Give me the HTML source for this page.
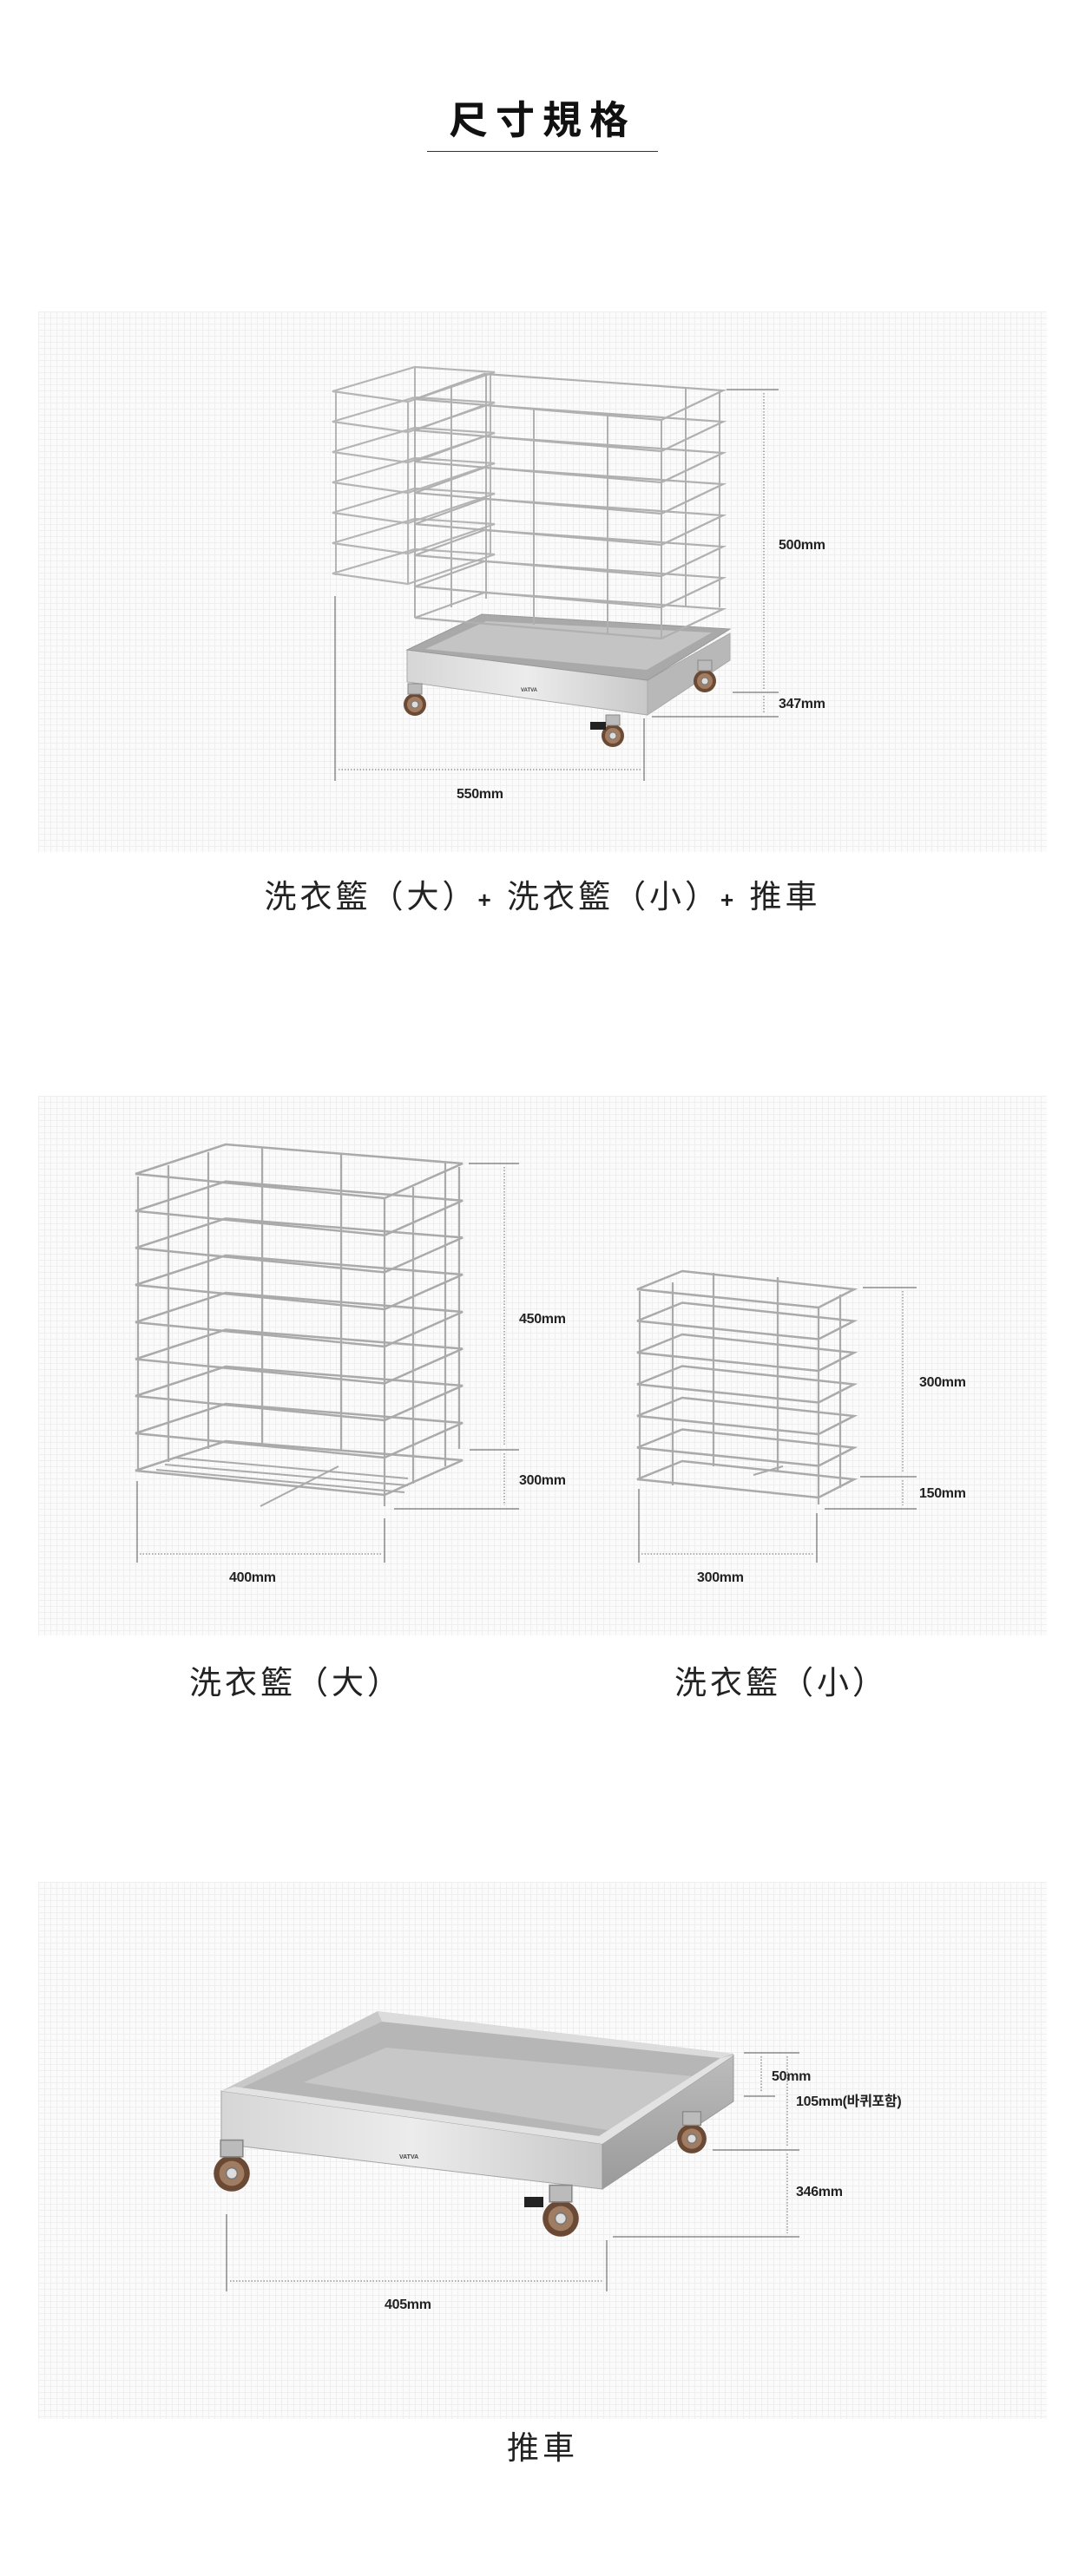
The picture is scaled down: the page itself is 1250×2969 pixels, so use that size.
<!DOCTYPE html>
<html><head><meta charset="utf-8">
<style>
html,body{margin:0;padding:0;background:#fff;}
body{width:1250px;height:2969px;position:relative;overflow:hidden;font-family:"Liberation Sans","Noto Sans CJK TC",sans-serif;}
.panel{position:absolute;left:44px;width:1162px;background-color:#fbfbfb;
background-image:linear-gradient(#efefef 1px,transparent 1px),linear-gradient(90deg,#efefef 1px,transparent 1px);background-size:7px 7px;}
.t{position:absolute;white-space:nowrap;}
.cap{font-size:37px;color:#222;letter-spacing:4px;transform:translateX(-50%);line-height:1;font-family:"Liberation Sans","Noto Sans CJK TC",sans-serif;}
.lbl{font-size:16px;font-weight:bold;color:#222;letter-spacing:-0.3px;line-height:1;transform:translateY(-50%);font-family:"Liberation Sans","Noto Sans CJK KR",sans-serif;}
svg{position:absolute;left:0;top:0;}
</style></head><body>
<div class="t" style="left:625px;top:102px;transform:translateX(-50%);font-size:45px;font-weight:bold;letter-spacing:9px;color:#111;font-family:'Liberation Sans','Noto Sans CJK TC',sans-serif;">尺寸規格</div>
<div style="position:absolute;left:492px;top:174px;width:266px;height:1px;background:#333;"></div>

<div class="panel" style="top:359px;height:623px;"></div>
<div class="panel" style="top:1263px;height:622px;"></div>
<div class="panel" style="top:2169px;height:619px;"></div>

<svg width="1250" height="2969" viewBox="0 0 1250 2969">
<defs>
<linearGradient id="steel" x1="0" y1="0" x2="1" y2="0"><stop offset="0" stop-color="#d6d6d6"/><stop offset="0.5" stop-color="#ececec"/><stop offset="1" stop-color="#c8c8c8"/></linearGradient>
<linearGradient id="steel2" x1="0" y1="0" x2="0" y2="1"><stop offset="0" stop-color="#bcbcbc"/><stop offset="1" stop-color="#9a9a9a"/></linearGradient>
<g id="ringL"><polygon points="156,1353 260,1319 533,1341 443,1381" fill="none" stroke="#aaa" stroke-width="2.5"/></g>
<g id="ringS"><polygon points="734,1486 786,1465 984,1486 943,1507" fill="none" stroke="#aaa" stroke-width="2.5"/></g>
<g id="ring1s"><polygon points="383,451 478,423 570,429 470,463" fill="none" stroke="#b5b5b5" stroke-width="2.2"/></g>
<g id="ring1b"><polygon points="478,460 558,431 833,450 762,484" fill="none" stroke="#b0b0b0" stroke-width="2.2"/></g>
<g id="wheel"><circle r="13" fill="#6b4a35"/><circle r="9" fill="#a07c62"/><circle r="4" fill="#ddd" stroke="#777"/><rect x="-8" y="-24" width="16" height="12" fill="#bbb" stroke="#888"/></g>
</defs>

<!-- PANEL 1 -->
<g>
<!-- cart -->
<polygon points="469,749 746,784 841,730 841,761 746,824 469,786" fill="#ccc"/>
<polygon points="469,749 746,784 746,824 469,786" fill="url(#steel)" stroke="#aaa"/>
<polygon points="746,784 841,730 841,761 746,824" fill="#b8b8b8" stroke="#aaa"/>
<polygon points="469,749 555,708 841,725 746,784" fill="#a9a9a9" stroke="#999"/>
<polygon points="490,748 560,716 820,729 745,772" fill="#c4c4c4"/>
<text x="600" y="797" font-size="6" font-family="Liberation Sans" font-weight="bold" fill="#444">VATVA</text>
<use href="#wheel" x="478" y="812"/>
<use href="#wheel" x="706" y="848"/>
<use href="#wheel" x="812" y="785"/>
<rect x="680" y="832" width="18" height="9" fill="#222"/>
<!-- small basket rings -->
<g><use href="#ring1s" y="0"/><use href="#ring1s" y="35"/><use href="#ring1s" y="70"/><use href="#ring1s" y="105"/><use href="#ring1s" y="140"/><use href="#ring1s" y="175"/><use href="#ring1s" y="210"/></g>
<g stroke="#b5b5b5" stroke-width="2"><line x1="387" y1="451" x2="387" y2="663"/><line x1="470" y1="463" x2="470" y2="673"/><line x1="565" y1="429" x2="565" y2="640"/><line x1="478" y1="423" x2="478" y2="630"/></g>
<!-- big basket -->
<g><use href="#ring1b" y="0"/><use href="#ring1b" y="36"/><use href="#ring1b" y="72"/><use href="#ring1b" y="108"/><use href="#ring1b" y="144"/><use href="#ring1b" y="180"/><use href="#ring1b" y="216"/><use href="#ring1b" y="252"/></g>
<g stroke="#b0b0b0" stroke-width="2"><line x1="478" y1="460" x2="478" y2="712"/><line x1="520" y1="445" x2="520" y2="700"/><line x1="560" y1="431" x2="560" y2="690"/><line x1="615" y1="470" x2="615" y2="720"/><line x1="700" y1="478" x2="700" y2="730"/><line x1="762" y1="484" x2="762" y2="736"/><line x1="790" y1="448" x2="790" y2="700"/><line x1="829" y1="450" x2="829" y2="700"/></g>
<!-- dims -->
<g stroke="#555" stroke-width="1"><line x1="837" y1="449" x2="897" y2="449"/><line x1="844" y1="798" x2="897" y2="798"/><line x1="751" y1="826" x2="897" y2="826"/><line x1="386" y1="687" x2="386" y2="900"/><line x1="742" y1="828" x2="742" y2="900"/></g>
<g stroke="#666" stroke-width="1" stroke-dasharray="1.5,2"><line x1="880" y1="453" x2="880" y2="794"/><line x1="880" y1="802" x2="880" y2="822"/><line x1="390" y1="887" x2="738" y2="887"/></g>
</g>

<!-- PANEL 2 -->
<g>
<g><use href="#ringL" y="0"/><use href="#ringL" y="42.7"/><use href="#ringL" y="85.4"/><use href="#ringL" y="128"/><use href="#ringL" y="171"/><use href="#ringL" y="213.5"/><use href="#ringL" y="256"/><use href="#ringL" y="299"/><use href="#ringL" y="342"/></g>
<g stroke="#aaa" stroke-width="2.2"><line x1="159" y1="1356" x2="159" y2="1695"/><line x1="194" y1="1343" x2="194" y2="1685"/><line x1="240" y1="1328" x2="240" y2="1670"/><line x1="302" y1="1323" x2="302" y2="1665"/><line x1="393" y1="1330" x2="393" y2="1672"/><line x1="443" y1="1381" x2="443" y2="1736"/><line x1="476" y1="1368" x2="476" y2="1710"/><line x1="513" y1="1340" x2="513" y2="1690"/><line x1="529" y1="1345" x2="529" y2="1670"/></g>
<g stroke="#aaa" stroke-width="2"><line x1="200" y1="1680" x2="470" y2="1704"/><line x1="190" y1="1688" x2="470" y2="1712"/><line x1="180" y1="1694" x2="466" y2="1720"/><line x1="300" y1="1736" x2="390" y2="1690"/></g>
<g><use href="#ringS" y="0"/><use href="#ringS" y="36.5"/><use href="#ringS" y="73"/><use href="#ringS" y="109.5"/><use href="#ringS" y="146"/><use href="#ringS" y="182.5"/><use href="#ringS" y="219"/></g>
<g stroke="#aaa" stroke-width="2.2"><line x1="737" y1="1488" x2="737" y2="1705"/><line x1="775" y1="1478" x2="775" y2="1712"/><line x1="822" y1="1467" x2="822" y2="1690"/><line x1="896" y1="1472" x2="896" y2="1695"/><line x1="943" y1="1507" x2="943" y2="1734"/><line x1="968" y1="1492" x2="968" y2="1715"/><line x1="868" y1="1700" x2="902" y2="1690"/></g>
<g stroke="#555" stroke-width="1"><line x1="540" y1="1341" x2="598" y2="1341"/><line x1="541" y1="1671" x2="598" y2="1671"/><line x1="454" y1="1739" x2="598" y2="1739"/><line x1="158" y1="1707" x2="158" y2="1801"/><line x1="443" y1="1750" x2="443" y2="1801"/>
<line x1="994" y1="1484" x2="1056" y2="1484"/><line x1="991" y1="1702" x2="1056" y2="1702"/><line x1="950" y1="1739" x2="1056" y2="1739"/><line x1="736" y1="1716" x2="736" y2="1801"/><line x1="941" y1="1744" x2="941" y2="1801"/></g>
<g stroke="#666" stroke-width="1" stroke-dasharray="1.5,2"><line x1="581" y1="1345" x2="581" y2="1667"/><line x1="581" y1="1675" x2="581" y2="1735"/><line x1="161" y1="1791" x2="439" y2="1791"/><line x1="1040" y1="1488" x2="1040" y2="1698"/><line x1="1040" y1="1706" x2="1040" y2="1735"/><line x1="739" y1="1791" x2="938" y2="1791"/></g>
</g>

<!-- PANEL 3 -->
<g>
<polygon points="255,2410 435,2318 845,2367 845,2422 694,2523 255,2471" fill="#c8c8c8"/>
<polygon points="275,2408 440,2330 830,2372 690,2462" fill="#b6b6b6"/>
<polygon points="350,2400 445,2360 820,2395 700,2455" fill="#c7c7c7"/>
<polygon points="435,2318 440,2330 830,2372 845,2367" fill="#dcdcdc"/>
<polygon points="255,2410 694,2471 694,2523 255,2471" fill="url(#steel)" stroke="#a5a5a5"/>
<polygon points="694,2471 845,2369 845,2422 694,2523" fill="url(#steel2)" stroke="#999"/>
<polygon points="255,2410 694,2471 845,2369 830,2372 690,2462 270,2405" fill="#e2e2e2"/>
<text x="460" y="2488" font-size="7" font-family="Liberation Sans" font-weight="bold" fill="#444">VATVA</text>
<g transform="translate(267,2505) scale(1.6)"><use href="#wheel"/></g>
<g transform="translate(646,2557) scale(1.6)"><use href="#wheel"/></g>
<g transform="translate(797,2465) scale(1.3)"><use href="#wheel"/></g>
<rect x="604" y="2532" width="22" height="12" fill="#222"/>
<g stroke="#555" stroke-width="1"><line x1="857" y1="2366" x2="921" y2="2366"/><line x1="857" y1="2416" x2="893" y2="2416"/><line x1="821" y1="2478" x2="921" y2="2478"/><line x1="706" y1="2578" x2="921" y2="2578"/><line x1="261" y1="2552" x2="261" y2="2641"/><line x1="699" y1="2582" x2="699" y2="2641"/></g>
<g stroke="#666" stroke-width="1" stroke-dasharray="1.5,2"><line x1="877" y1="2370" x2="877" y2="2412"/><line x1="907" y1="2370" x2="907" y2="2474"/><line x1="907" y1="2482" x2="907" y2="2574"/><line x1="265" y1="2629" x2="695" y2="2629"/></g>
</g>
</svg>

<div class="t lbl" style="left:897px;top:629px;">500mm</div>
<div class="t lbl" style="left:897px;top:812px;">347mm</div>
<div class="t lbl" style="left:526px;top:916px;">550mm</div>
<div class="t cap" style="left:625px;top:1015px;">洗衣籃（大）<b style="font-size:26px;">+</b> 洗衣籃（小）<b style="font-size:26px;">+</b> 推車</div>

<div class="t lbl" style="left:598px;top:1521px;">450mm</div>
<div class="t lbl" style="left:598px;top:1707px;">300mm</div>
<div class="t lbl" style="left:264px;top:1819px;">400mm</div>
<div class="t lbl" style="left:1059px;top:1594px;">300mm</div>
<div class="t lbl" style="left:1059px;top:1722px;">150mm</div>
<div class="t lbl" style="left:803px;top:1819px;">300mm</div>
<div class="t cap" style="left:341px;top:1921px;">洗衣籃（大）</div>
<div class="t cap" style="left:900px;top:1921px;">洗衣籃（小）</div>

<div class="t lbl" style="left:889px;top:2394px;">50mm</div>
<div class="t lbl" style="left:917px;top:2423px;">105mm(바퀴포함)</div>
<div class="t lbl" style="left:917px;top:2527px;">346mm</div>
<div class="t lbl" style="left:443px;top:2657px;">405mm</div>
<div class="t cap" style="left:625px;top:2803px;">推車</div>
</body></html>
